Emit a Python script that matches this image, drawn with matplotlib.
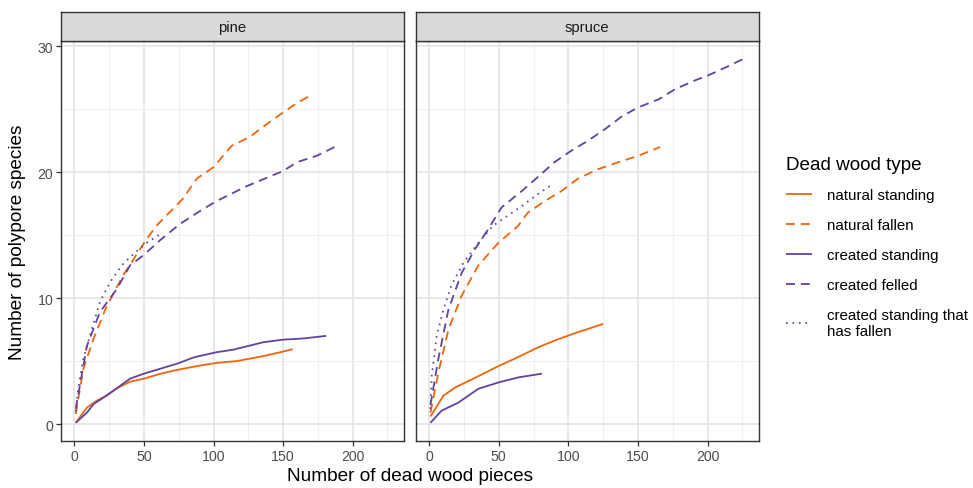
import matplotlib
matplotlib.use("Agg")
import matplotlib.pyplot as plt
from matplotlib.ticker import MultipleLocator

plt.rcParams['font.family'] = ['Liberation Sans', 'DejaVu Sans']

# ---- data ----
panels = ["pine", "spruce"]
series_names = ["natural standing", "natural fallen", "created standing",
                "created felled", "created standing that\nhas fallen"]

# pine
pine_ns_x = [1, 9, 16, 23, 30, 40, 50, 62, 74, 88, 102, 117, 136, 148, 157]
pine_ns_y = [0.1, 1.3, 1.85, 2.25, 2.8, 3.36, 3.6, 4.0, 4.3, 4.6, 4.85, 5.0, 5.4, 5.7, 5.95]
pine_nf_x = [1, 6.5, 13.7, 23, 35, 52, 59, 78, 88, 100, 113, 126, 138, 150, 160, 168]
pine_nf_y = [0.8, 4.4, 6.75, 9.3, 11.8, 14.7, 15.75, 17.9, 19.5, 20.4, 22.1, 22.8, 23.8, 24.75, 25.5, 26.0]
pine_cs_x = [1, 9, 14, 23, 30, 40, 50, 62, 74, 86, 102, 114, 136, 150, 165, 181]
pine_cs_y = [0.1, 0.9, 1.6, 2.25, 2.8, 3.6, 4.0, 4.4, 4.8, 5.3, 5.7, 5.9, 6.5, 6.7, 6.8, 7.0]
pine_cf_x = [1, 9, 18.4, 30.4, 40, 49.6, 61.6, 76, 90, 102, 124, 150, 160, 174, 187]
pine_cf_y = [1.2, 6.2, 8.9, 10.7, 12.6, 13.4, 14.6, 15.9, 16.9, 17.7, 18.9, 20.1, 20.8, 21.3, 22.0]
pine_csf_x = [1, 3, 6.5, 12.5, 18.4, 25.6, 34, 42.4, 52, 62]
pine_csf_y = [1.0, 3.0, 5.2, 7.5, 9.7, 11.25, 12.6, 13.5, 14.4, 15.1]

# spruce
spr_ns_x = [1, 10.3, 18.7, 35.4, 49.8, 61.7, 78.5, 93, 107, 125]
spr_ns_y = [0.6, 2.25, 2.9, 3.8, 4.6, 5.2, 6.1, 6.75, 7.3, 7.95]
spr_nf_x = [1, 6.7, 13.9, 23.4, 35.4, 49.8, 64, 71, 83, 95, 107, 121.5, 136, 150, 165.8]
spr_nf_y = [0.9, 4.1, 7.5, 10.2, 12.6, 14.4, 15.75, 16.8, 17.7, 18.5, 19.5, 20.25, 20.8, 21.3, 22.0]
spr_cs_x = [1, 9, 21, 35.4, 49.8, 64, 81]
spr_cs_y = [0.1, 1.06, 1.7, 2.8, 3.3, 3.7, 4.0]
spr_cf_x = [1, 6.7, 13.9, 23.4, 33, 42.6, 52, 66.5, 81, 90, 102, 114, 126, 138, 150, 165,
            176.6, 191, 200.5, 212.4, 225.6]
spr_cf_y = [1.5, 5.2, 9.1, 12.0, 13.9, 15.5, 17.2, 18.5, 19.9, 20.8, 21.7, 22.5, 23.4, 24.4,
            25.15, 25.8, 26.6, 27.3, 27.7, 28.3, 29.0]
spr_csf_x = [1, 1.9, 5.5, 10.3, 16, 24.6, 35.4, 46, 54.5, 66.5, 78.5, 86.8]
spr_csf_y = [1.2, 3.8, 7.0, 9.1, 11.0, 12.8, 14.4, 15.75, 16.4, 17.3, 18.3, 18.9]

data = {
    "pine": [(pine_ns_x, pine_ns_y), (pine_nf_x, pine_nf_y), (pine_cs_x, pine_cs_y),
             (pine_cf_x, pine_cf_y), (pine_csf_x, pine_csf_y)],
    "spruce": [(spr_ns_x, spr_ns_y), (spr_nf_x, spr_nf_y), (spr_cs_x, spr_cs_y),
               (spr_cf_x, spr_cf_y), (spr_csf_x, spr_csf_y)],
}

x_ticks = [0, 50, 100, 150, 200]
y_ticks = [0, 10, 20, 30]

# ---- styles ----
ORANGE = "#F0650C"
PURPLE = "#6142A0"
colors = [ORANGE, ORANGE, PURPLE, PURPLE, PURPLE]
styles = ["-", (0, (5.0, 3.2)), "-", (0, (5.0, 3.2)), (0, (0.9, 2.7))]
LW = 1.3

W, H = 973, 489
fig = plt.figure(figsize=(W / 100, H / 100), dpi=100)

def fx(px):
    return px / W

def fy(py):
    return 1 - py / H

panel_left = [61, 415.7]
panel_right = [404, 759]
p_top, p_bot = 41.7, 442
s_top = 13.3

handles = []
for i, name in enumerate(panels):
    l, r = panel_left[i], panel_right[i]
    ax = fig.add_axes([fx(l), fy(p_bot), fx(r - l), fy(p_top) - fy(p_bot)])
    for j, (xs, ys) in enumerate(data[name]):
        ln, = ax.plot(xs, ys, color=colors[j], linestyle=styles[j], lw=LW,
                      solid_capstyle='butt', dash_capstyle='butt')
        if i == 0:
            handles.append(ln)
    ax.set_xlim(-9.6, 236.9)
    ax.set_ylim(-1.35, 30.45)
    ax.set_xticks(x_ticks)
    ax.set_yticks(y_ticks)
    ax.xaxis.set_minor_locator(MultipleLocator(25))
    ax.yaxis.set_minor_locator(MultipleLocator(5))
    ax.grid(which='major', color='#E6E6E6', lw=1.3)
    ax.grid(which='minor', color='#EFEFEF', lw=0.8)
    ax.set_axisbelow(True)
    for sp in ax.spines.values():
        sp.set_color('#333333')
        sp.set_linewidth(1.0)
    ax.tick_params(which='major', length=3.5, width=0.9, color='#333333',
                   labelsize=10.2, labelcolor='#4D4D4D', pad=2)
    ax.tick_params(which='minor', length=0)
    if i == 1:
        ax.tick_params(axis='y', labelleft=False, length=0)
    # strip
    sax = fig.add_axes([fx(l), fy(p_top), fx(r - l), fy(s_top) - fy(p_top)])
    sax.set_facecolor('#D9D9D9')
    sax.set_xticks([])
    sax.set_yticks([])
    for sp in sax.spines.values():
        sp.set_color('#333333')
        sp.set_linewidth(1.0)
    sax.text(0.5, 0.47, name, ha='center', va='center', fontsize=10.7,
             color='#1A1A1A', transform=sax.transAxes)

fig.text(fx(410), fy(477), "Number of dead wood pieces", ha='center', va='center',
         fontsize=13.7, color='black')
fig.text(fx(18), fy(242), "Number of polypore species", ha='center', va='center',
         rotation=90, fontsize=13.7, color='black')

leg = fig.legend(handles, series_names, loc='upper left',
                 bbox_to_anchor=(fx(780), fy(151)), frameon=False,
                 title="Dead wood type", title_fontsize=13.6, fontsize=10.9,
                 handlelength=1.7, handletextpad=1.0, labelspacing=1.05,
                 borderaxespad=0)
leg._legend_box.align = "left"
leg._legend_box.sep = 11

fig.savefig("out.png", dpi=100)
